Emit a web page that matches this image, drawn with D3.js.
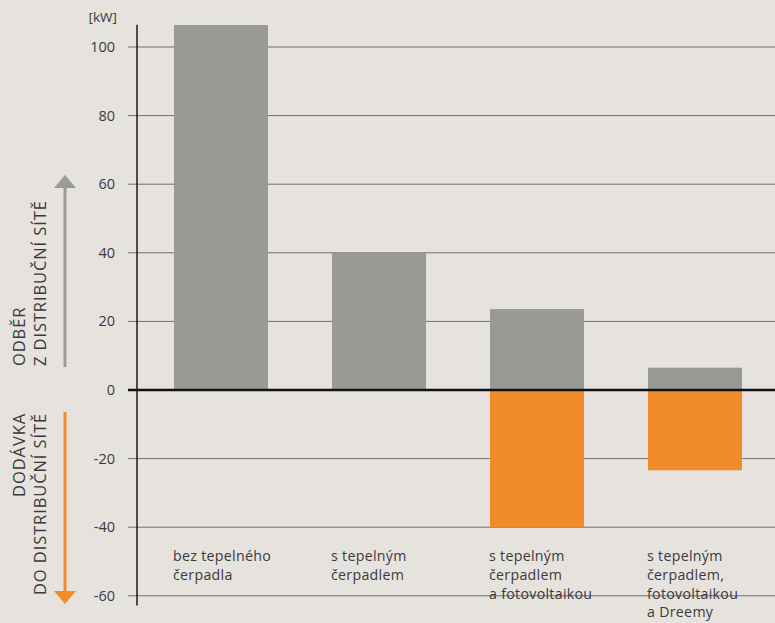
<!DOCTYPE html>
<html><head><meta charset="utf-8">
<script src="https://cdn.jsdelivr.net/npm/d3@7"></script>
<style>
html,body{margin:0;padding:0;background:#e6e3df;}
svg{display:block;}
text{font-family:"Open Sans", Roboto, sans-serif;fill:#3a3a3a;}
</style></head><body>
<svg id="c" width="775" height="623"></svg>
<script>
const categories = [
  ["bez tepelného", "čerpadla"],
  ["s tepelným", "čerpadlem"],
  ["s tepelným", "čerpadlem", "a fotovoltaikou"],
  ["s tepelným", "čerpadlem,", "fotovoltaikou", "a Dreemy"]
];
const consumption = [106.4, 40, 23.6, 6.5];
const supply = [0, 0, -40, -23.4];
const yTicks = [-60, -40, -20, 0, 20, 40, 60, 80, 100];
const unitLabel = "[kW]";
const upLabel = ["ODBĚR", "Z DISTRIBUČNÍ SÍTĚ"];
const downLabel = ["DODÁVKA", "DO DISTRIBUČNÍ SÍTĚ"];

const svg = d3.select("#c");
const W = 775;
const axisX = 137;
const y = d3.scaleLinear().domain([-60, 100]).range([595.8, 47]);
const x = d3.scaleBand().domain(d3.range(categories.length)).range([142, 774])
  .paddingInner(0.405).paddingOuter(0.2025);

// grid
svg.append("g").selectAll("line").data(yTicks.filter(d => d !== 0)).join("line")
  .attr("x1", 128).attr("x2", W).attr("y1", d => y(d)).attr("y2", d => y(d))
  .attr("stroke", "#6e6e6e").attr("stroke-width", 1);

// tick labels
svg.append("g").selectAll("text").data(yTicks).join("text")
  .attr("x", 115).attr("y", d => y(d)).attr("dy", "0.35em")
  .attr("text-anchor", "end").attr("font-size", 14.5).text(d => d);

svg.append("text").attr("x", 117).attr("y", 22).attr("text-anchor", "end")
  .attr("font-size", 13.5).text(unitLabel);

// bars
const bars = svg.append("g");
bars.selectAll("rect.pos").data(consumption).join("rect").attr("class", "pos")
  .attr("x", (d, i) => x(i)).attr("width", x.bandwidth())
  .attr("y", d => y(d)).attr("height", d => y(0) - y(d)).attr("fill", "#999995");
bars.selectAll("rect.neg").data(supply).join("rect").attr("class", "neg")
  .attr("x", (d, i) => x(i)).attr("width", x.bandwidth())
  .attr("y", y(0)).attr("height", d => y(d) - y(0)).attr("fill", "#f28c2a");

// axis line
svg.append("line").attr("x1", axisX).attr("x2", axisX).attr("y1", y(106.5)).attr("y2", y(-62.8))
  .attr("stroke", "#1a1a1a").attr("stroke-width", 1.5);
// zero line
svg.append("line").attr("x1", 128).attr("x2", W).attr("y1", y(0)).attr("y2", y(0))
  .attr("stroke", "#111").attr("stroke-width", 2.5);

// category labels
const cl = svg.append("g").selectAll("text").data(categories).join("text")
  .attr("x", (d, i) => x(i) - 1).attr("y", 561).attr("font-size", 14.2)
  .attr("letter-spacing", 0.3);
cl.selectAll("tspan").data(d => d).join("tspan")
  .attr("x", function() { return d3.select(this.parentNode).attr("x"); })
  .attr("dy", (d, j) => j === 0 ? 0 : 18.8).text(d => d);

// side labels
function sideLabel(lines, yPos, anchor) {
  const g = svg.append("g").attr("transform", `translate(0,${yPos}) rotate(-90)`);
  lines.forEach((t, i) => {
    g.append("text").attr("x", 0).attr("y", 25 + i * 20.5).attr("text-anchor", anchor)
      .attr("font-size", 16.5).attr("letter-spacing", 0.9).text(t);
  });
}
sideLabel(upLabel, 366, "start");
sideLabel(downLabel, 413, "end");

// arrows
svg.append("line").attr("x1", 65).attr("x2", 65).attr("y1", 367).attr("y2", 186)
  .attr("stroke", "#9a9a96").attr("stroke-width", 3);
svg.append("path").attr("d", "M54,188 L65,175 L76,188 Z").attr("fill", "#9a9a96");
svg.append("line").attr("x1", 65).attr("x2", 65).attr("y1", 412).attr("y2", 593)
  .attr("stroke", "#f28c2a").attr("stroke-width", 3);
svg.append("path").attr("d", "M54,591 L65,604 L76,591 Z").attr("fill", "#f28c2a");
</script>
</body></html>
